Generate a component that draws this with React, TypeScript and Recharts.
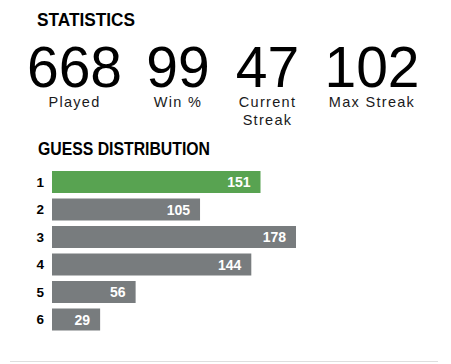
import React from 'react';
import { BarChart, Bar, XAxis, YAxis, Cell, LabelList } from 'recharts';

const statValues = ['668', '99', '47', '102'];
const statLabels = [['Played'], ['Win %'], ['Current', 'Streak'], ['Max Streak']];
const guesses = ['1', '2', '3', '4', '5', '6'];
const counts = [151, 105, 178, 144, 56, 29];
const highlightGuess = '1';

const data = guesses.map((g, i) => ({ guess: g, count: counts[i] }));

const FONT = '"Liberation Sans", Arial, Helvetica, sans-serif';
const GREEN = '#58a351';
const GRAY = '#787c7e';
const PAD = 10;
const statCenters = [74.5, 178, 267.5, 372];

const BarShape = (props: any) => {
  const { x, y, width, height, fill } = props;
  return <rect x={x} y={y} width={Math.max(0, width) + PAD} height={height} fill={fill} />;
};

const ValueLabel = (props: any) => {
  const { x, y, width, height, value } = props;
  return (
    <text
      x={x + width}
      y={y + height / 2}
      dy={5}
      textAnchor="end"
      fill="#ffffff"
      fontFamily={FONT}
      fontWeight={700}
      fontSize={14}
    >
      {value}
    </text>
  );
};

export default function App() {
  return (
    <div style={{ position: 'fixed', left: 0, top: 0, width: 451, height: 364, background: '#ffffff' }}>
      <svg width={451} height={364} style={{ position: 'absolute', left: 0, top: 0 }}>
        <text x={37} y={25.5} fontFamily={FONT} fontWeight={700} fontSize={18} fill="#000" textLength={98} lengthAdjust="spacingAndGlyphs">
          STATISTICS
        </text>
        {statValues.map((v, i) => (
          <text key={'v' + i} x={statCenters[i]} y={87} textAnchor="middle" fontFamily={FONT} fontSize={57} fill="#000">
            {v}
          </text>
        ))}
        {statLabels.map((lines, i) =>
          lines.map((l, j) => (
            <text
              key={'l' + i + '-' + j}
              x={statCenters[i]}
              y={107 + j * 18}
              textAnchor="middle"
              fontFamily={FONT}
              fontSize={14.5}
              letterSpacing={1.3}
              fill="#1a1a1b"
            >
              {l}
            </text>
          ))
        )}
        <text x={38} y={155} fontFamily={FONT} fontWeight={700} fontSize={18} fill="#000" textLength={172} lengthAdjust="spacingAndGlyphs">
          GUESS DISTRIBUTION
        </text>
        <line x1={10} x2={438} y1={361.5} y2={361.5} stroke="#dedede" strokeWidth={1} />
      </svg>
      <div style={{ position: 'absolute', left: 0, top: 0 }}>
        <BarChart
          width={451}
          height={364}
          layout="vertical"
          data={data}
          margin={{ top: 168, right: 165, bottom: 31, left: 32 }}
        >
          <XAxis type="number" dataKey="count" domain={[0, Math.max(...counts)]} hide />
          <YAxis
            type="category"
            dataKey="guess"
            width={20}
            tickSize={0}
            tickMargin={8}
            axisLine={false}
            tickLine={false}
            tick={{ fill: '#000', fontFamily: FONT, fontWeight: 700, fontSize: 13.5 }}
          />
          <Bar dataKey="count" barSize={22} isAnimationActive={false} shape={BarShape}>
            {data.map((d) => (
              <Cell key={d.guess} fill={d.guess === highlightGuess ? GREEN : GRAY} />
            ))}
            <LabelList dataKey="count" content={ValueLabel} />
          </Bar>
        </BarChart>
      </div>
    </div>
  );
}
